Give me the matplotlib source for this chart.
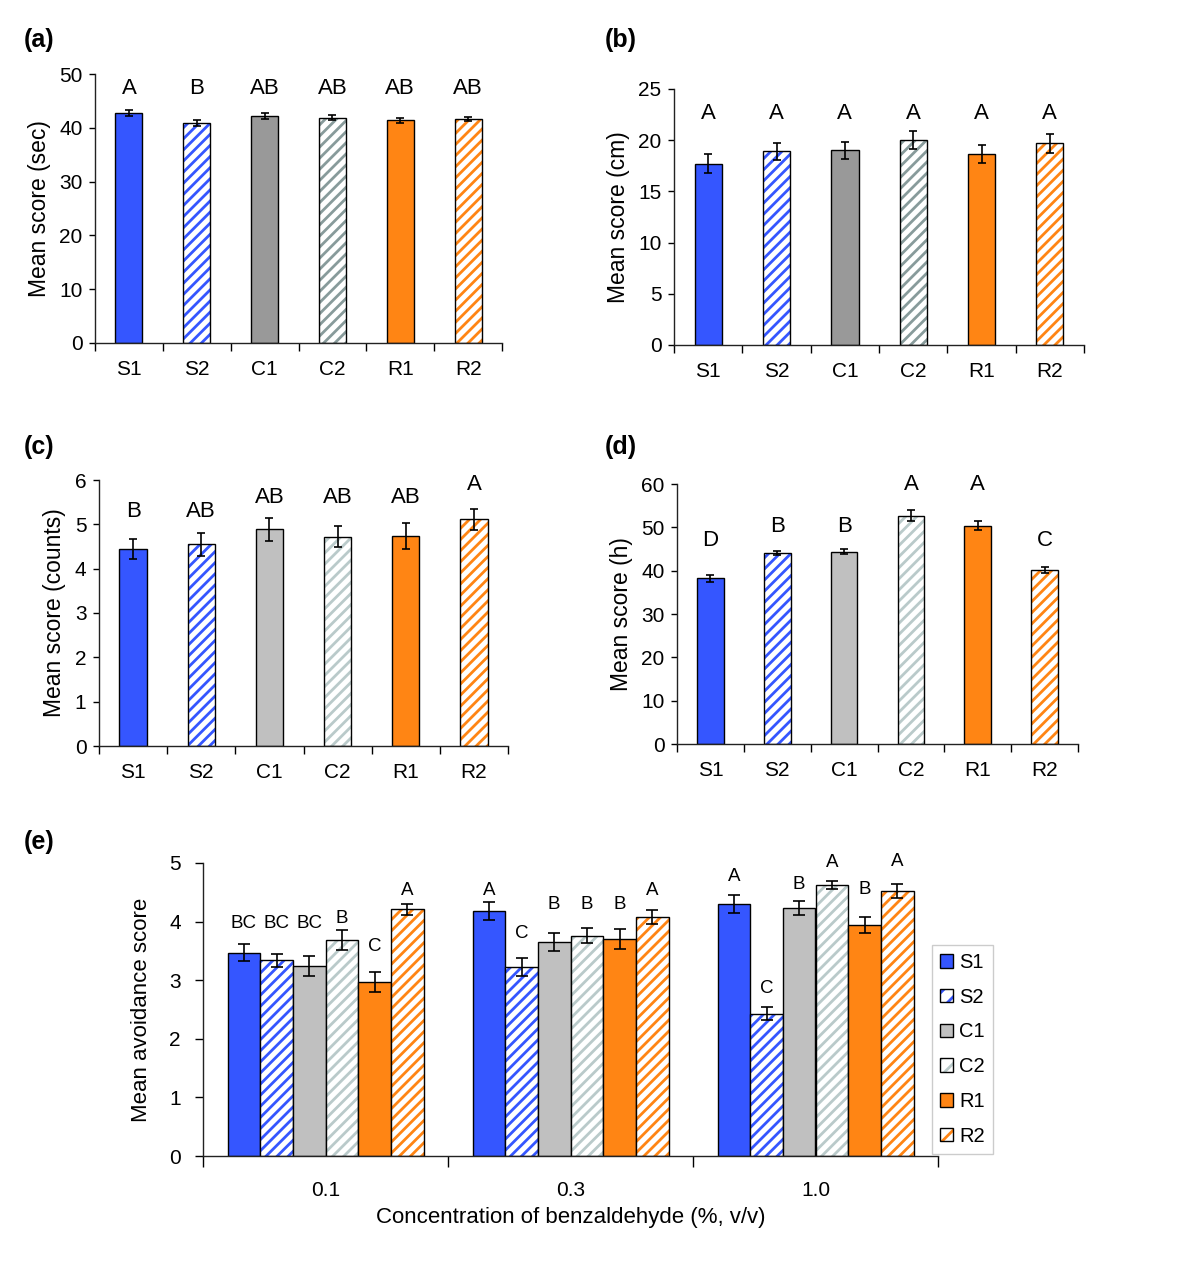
import matplotlib.pyplot as plt
from matplotlib.patches import Patch
from matplotlib.ticker import FixedLocator, NullFormatter

plt.rcParams["font.family"] = ["Liberation Sans", "DejaVu Sans"]
plt.rcParams["hatch.linewidth"] = 2.0

GROUPS = ["S1", "S2", "C1", "C2", "R1", "R2"]
HATCHED = [False, True, False, True, False, True]

# (a) time, sec
a_mean = [42.7, 40.9, 42.2, 41.9, 41.4, 41.6]
a_err = [0.55, 0.5, 0.5, 0.4, 0.5, 0.4]
a_letters = ["A", "B", "AB", "AB", "AB", "AB"]

# (b) distance, cm
b_mean = [17.7, 18.9, 19.0, 20.0, 18.7, 19.7]
b_err = [0.94, 0.86, 0.86, 0.9, 0.88, 0.94]
b_letters = ["A", "A", "A", "A", "A", "A"]

# (c) counts
c_mean = [4.44, 4.55, 4.89, 4.72, 4.74, 5.11]
c_err = [0.23, 0.26, 0.26, 0.24, 0.30, 0.23]
c_letters = ["B", "AB", "AB", "AB", "AB", "A"]

# (d) hours
d_mean = [38.2, 44.1, 44.4, 52.7, 50.4, 40.2]
d_err = [0.85, 0.4, 0.55, 1.3, 1.0, 0.75]
d_letters = ["D", "B", "B", "A", "A", "C"]

# (e) avoidance score per benzaldehyde concentration
conc_labels = ["0.1", "0.3", "1.0"]
e_mean = {
    "S1": [3.47, 4.18, 4.30],
    "S2": [3.34, 3.22, 2.43],
    "C1": [3.24, 3.65, 4.23],
    "C2": [3.68, 3.76, 4.62],
    "R1": [2.97, 3.71, 3.94],
    "R2": [4.21, 4.08, 4.52],
}
e_err = {
    "S1": [0.15, 0.16, 0.15],
    "S2": [0.11, 0.155, 0.115],
    "C1": [0.165, 0.15, 0.12],
    "C2": [0.17, 0.13, 0.065],
    "R1": [0.17, 0.17, 0.14],
    "R2": [0.09, 0.12, 0.12],
}
e_letters = {
    "S1": ["BC", "A", "A"],
    "S2": ["BC", "C", "C"],
    "C1": ["BC", "B", "B"],
    "C2": ["B", "B", "A"],
    "R1": ["C", "B", "B"],
    "R2": ["A", "A", "A"],
}

# heights of the significance letters
a_letter_y = [47.3] * 6
b_letter_y = [22.6] * 6
c_letter_y = [5.29, 5.29, 5.6, 5.6, 5.6, 5.9]
d_letter_y = [46.9, 50.3, 50.3, 60.0, 60.0, 46.9]
e_letter_y = {
    "S1": [3.97, 4.53, 4.77],
    "S2": [3.97, 3.80, 2.85],
    "C1": [3.97, 4.29, 4.64],
    "C2": [4.05, 4.29, 5.01],
    "R1": [3.57, 4.29, 4.54],
    "R2": [4.53, 4.53, 5.02],
}

BLUE = "#3556FF"
ORANGE = "#FF8514"
COLORS_AB = [BLUE, BLUE, "#999999", "#889B9B", ORANGE, ORANGE]
COLORS_CDE = [BLUE, BLUE, "#C0C0C0", "#BACACA", ORANGE, ORANGE]

W, H = 1200, 1263


def px_axes(fig, left, top, right, bottom):
    return fig.add_axes([left / W, 1 - bottom / H, (right - left) / W, (bottom - top) / H])


def draw_bar(ax, x, height, width, color, hatched):
    if hatched:
        ax.bar(x, height, width, color="white", edgecolor=color, hatch="///", linewidth=0)
        ax.bar(x, height, width, fill=False, edgecolor="black", linewidth=1.0)
    else:
        ax.bar(x, height, width, color=color, edgecolor="black", linewidth=1.0)


def style_axes(ax, ymax, ystep, tick_labels, tick_len=4, ypad=5, xpad=12, fs=15):
    for side in ["top", "right"]:
        ax.spines[side].set_visible(False)
    for side in ["left", "bottom"]:
        ax.spines[side].set_linewidth(1.0)
        ax.spines[side].set_color("#222222")
    n = len(tick_labels)
    ax.set_xlim(0, n)
    ax.set_ylim(0, ymax)
    ax.set_yticks([i * ystep for i in range(int(round(ymax / ystep)) + 1)])
    ax.tick_params(axis="y", direction="out", length=tick_len, width=1.0, pad=ypad, labelsize=fs)
    ax.set_xticks([i + 0.5 for i in range(n)])
    ax.set_xticklabels(tick_labels)
    ax.tick_params(axis="x", which="major", length=0, pad=xpad, labelsize=fs)
    ax.xaxis.set_minor_locator(FixedLocator(list(range(n + 1))))
    ax.xaxis.set_minor_formatter(NullFormatter())
    ax.tick_params(axis="x", which="minor", direction="out", length=tick_len + 2, width=1.0)


def single_panel(ax, means, errs, letters, letter_y, colors, ymax, ystep, ylabel):
    xs = [i + 0.5 for i in range(len(GROUPS))]
    for x, m, col, hat in zip(xs, means, colors, HATCHED):
        draw_bar(ax, x, m, 0.4, col, hat)
    ax.errorbar(xs, means, yerr=errs, fmt="none", ecolor="black", elinewidth=1.2,
                capsize=3, capthick=1.2)
    for x, lab, ly in zip(xs, letters, letter_y):
        ax.text(x, ly, lab, ha="center", va="center", fontsize=16)
    style_axes(ax, ymax, ystep, GROUPS)
    ax.set_ylabel(ylabel, fontsize=16.5, labelpad=6)


fig = plt.figure(figsize=(W / 100, H / 100), dpi=100)

ax_a = px_axes(fig, 95, 74, 502, 343)
single_panel(ax_a, a_mean, a_err, a_letters, a_letter_y, COLORS_AB, 50, 10, "Mean score (sec)")

ax_b = px_axes(fig, 674, 89, 1084, 345)
single_panel(ax_b, b_mean, b_err, b_letters, b_letter_y, COLORS_AB, 25, 5, "Mean score (cm)")

ax_c = px_axes(fig, 99, 480, 508, 746)
single_panel(ax_c, c_mean, c_err, c_letters, c_letter_y, COLORS_CDE, 6, 1, "Mean score (counts)")

ax_d = px_axes(fig, 677, 484, 1078, 744)
single_panel(ax_d, d_mean, d_err, d_letters, d_letter_y, COLORS_CDE, 60, 10, "Mean score (h)")

# (e) grouped bars
ax_e = px_axes(fig, 203, 863, 938, 1156)
bw = 0.8 / len(GROUPS)
for j, (g, col, hat) in enumerate(zip(GROUPS, COLORS_CDE, HATCHED)):
    xs = [i + 0.5 + (j - 2.5) * bw for i in range(len(conc_labels))]
    for x, m in zip(xs, e_mean[g]):
        draw_bar(ax_e, x, m, bw, col, hat)
    ax_e.errorbar(xs, e_mean[g], yerr=e_err[g], fmt="none", ecolor="black",
                  elinewidth=1.2, capsize=4, capthick=1.2)
    for x, lab, ly in zip(xs, e_letters[g], e_letter_y[g]):
        ax_e.text(x, ly, lab, ha="center", va="center", fontsize=13.5)
style_axes(ax_e, 5, 1, conc_labels, tick_len=6, ypad=10, xpad=18)
ax_e.set_ylabel("Mean avoidance score", fontsize=16, labelpad=12)
ax_e.set_xlabel("Concentration of benzaldehyde (%, v/v)", fontsize=16, labelpad=5)

handles = []
for col, hat in zip(COLORS_CDE, HATCHED):
    if hat:
        handles.append((Patch(facecolor="white", edgecolor=col, hatch="//", linewidth=0),
                        Patch(fill=False, edgecolor="black", linewidth=1.0)))
    else:
        handles.append(Patch(facecolor=col, edgecolor="black", linewidth=1.0))
leg = fig.legend(handles, GROUPS, loc="upper left", bbox_to_anchor=(932 / W, 1 - 945 / H),
                 fontsize=14.5, handlelength=0.65, handleheight=0.65, handletextpad=0.3,
                 labelspacing=0.78, borderpad=0.4, borderaxespad=0, fancybox=False,
                 framealpha=1, edgecolor="#cccccc")
leg.get_frame().set_linewidth(1.0)

# panel tags
for tag, x, y in [("(a)", 24, 40), ("(b)", 605, 40), ("(c)", 24, 447),
                  ("(d)", 605, 447), ("(e)", 24, 842)]:
    fig.text(x / W, 1 - y / H, tag, fontsize=18, fontweight="bold", ha="left", va="center")

fig.savefig("out.png", dpi=100)
